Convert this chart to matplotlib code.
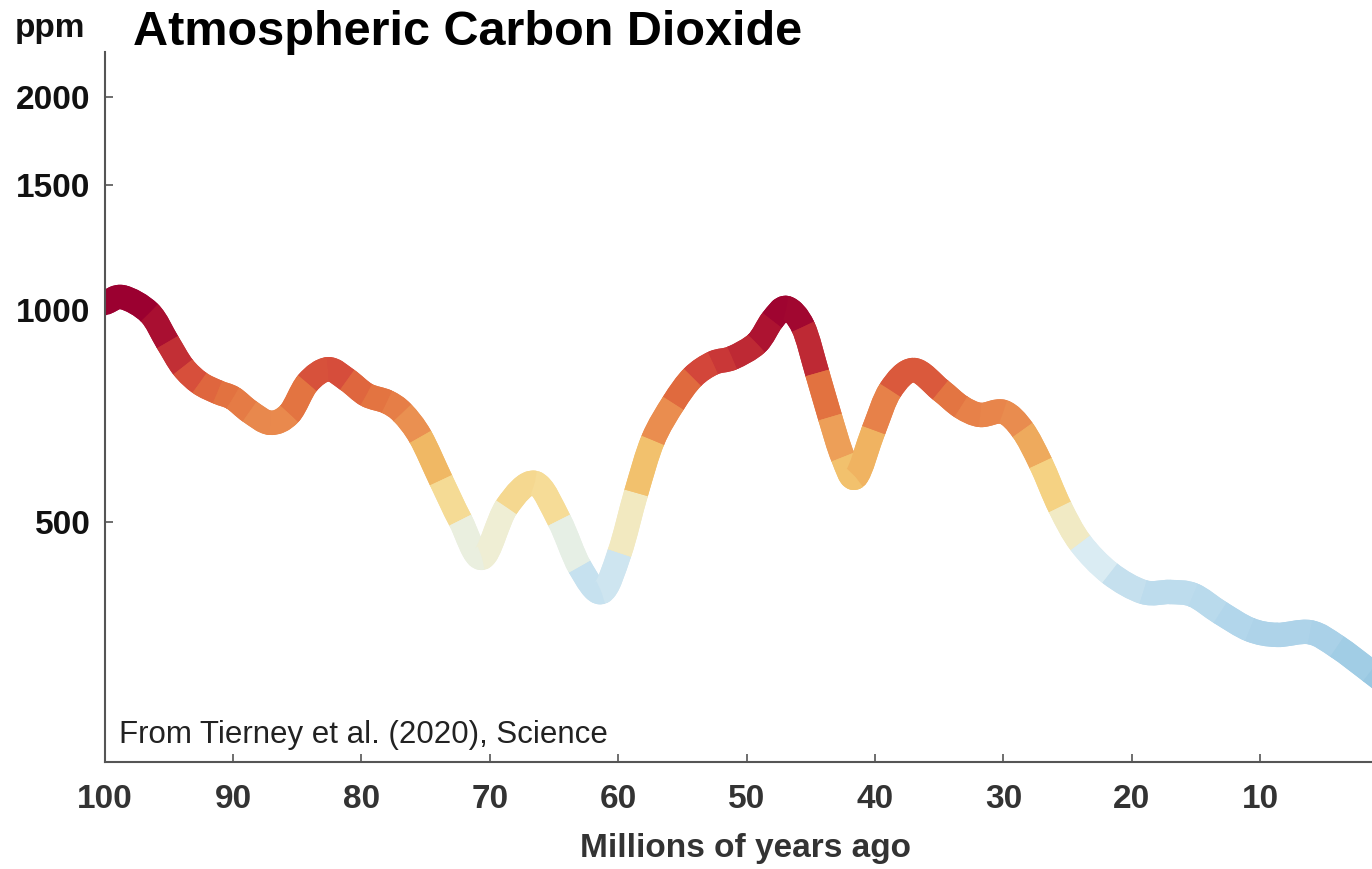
import numpy as np
import matplotlib
matplotlib.use("Agg")
import matplotlib.pyplot as plt
from matplotlib.path import Path
from matplotlib.collections import PathCollection
from matplotlib.colors import LinearSegmentedColormap, Normalize
from matplotlib.ticker import FixedLocator, FixedFormatter, NullLocator

plt.rcParams['font.family'] = ['Liberation Sans', 'DejaVu Sans']

# ---- data (millions of years ago, ppm) ----
age = [100.0, 98.6, 96.5, 95.1, 93.9, 92.6, 91.2, 90.0, 88.7, 87.1,
       85.6, 84.2, 82.6, 81.1, 79.6, 78.0, 76.8, 75.4, 73.8, 72.3,
       70.6, 68.7, 66.5, 64.6, 63.0, 61.3, 59.9, 58.6, 57.3, 55.7,
       54.2, 52.6, 51.1, 49.2, 48.0, 46.9, 45.6, 44.5, 43.5, 42.5,
       41.5, 40.1, 38.8, 37.0, 34.9, 33.3, 31.8, 30.0, 28.5, 27.1,
       25.6, 24.0, 21.7, 19.1, 17.0, 15.2, 13.1, 10.8, 8.7, 6.1,
       4.0, 1.4, 0.5]
co2 = [1021, 1041, 989, 899, 829, 787, 764, 749, 717, 691,
       712, 787, 823, 795, 757, 740, 714, 660, 573, 503,
       445, 525, 568, 503, 432, 398, 452, 550, 653, 737,
       802, 840, 854, 896, 966, 1005, 945, 813, 704, 618,
       579, 675, 769, 821, 769, 728, 709, 716, 675, 606,
       525, 467, 423, 398, 398, 394, 372, 352, 346, 349,
       333, 307, 298]

xticks = [100, 90, 80, 70, 60, 50, 40, 30, 20, 10]
xticklabels = ['100', '90', '80', '70', '60', '50', '40', '30', '20', '10']
yticks = [500, 1000, 1500, 2000]
yticklabels = ['500', '1000', '1500', '2000']

title = 'Atmospheric Carbon Dioxide'
ylabel = 'ppm'
xlabel = 'Millions of years ago'
source = 'From Tierney et al. (2020), Science'

# ---- colour map (style) ----
stops = [(300, '#99c8e2'), (350, '#afd4ea'), (400, '#bedded'), (445, '#dcedf3'),
         (480, '#eef0da'), (520, '#f6e0a0'), (580, '#f4cd78'), (620, '#f0b562'),
         (690, '#ea8e50'), (760, '#e2703f'), (820, '#d4473a'), (900, '#b51c32'),
         (1000, '#9b0030')]
vmin, vmax = stops[0][0], stops[-1][0]
cmap = LinearSegmentedColormap.from_list(
    'co2', [((v - vmin) / (vmax - vmin), c) for v, c in stops])
norm = Normalize(vmin=vmin, vmax=vmax, clip=True)

W, H = 1372, 869
fig = plt.figure(figsize=(W / 100, H / 100), dpi=100)
x0, x1 = 104.6, 1372
y0, y1 = 52, 762
ax = fig.add_axes([x0 / W, 1 - y1 / H, (x1 - x0) / W, (y1 - y0) / H])
ax.set_yscale('log')
ax.set_xlim(100, 1.29)
ax.set_ylim(228.6, 2316)

# ---- smooth coloured line ----
LW = 17.5
a = np.array(age, float)
c = np.array(co2, float)
P = np.column_stack([a, np.log10(c)])
Pe = np.vstack([2 * P[0] - P[1], P, 2 * P[-1] - P[-2]])
paths, cols = [], []
for i in range(len(P) - 1):
    p0, p1, p2, p3 = Pe[i], Pe[i + 1], Pe[i + 2], Pe[i + 3]
    c1 = p1 + (p2 - p0) / 6.0
    c2 = p2 - (p3 - p1) / 6.0
    v = np.array([p1, c1, c2, p2])
    v[:, 1] = 10 ** v[:, 1]
    paths.append(Path(v, [Path.MOVETO, Path.CURVE4, Path.CURVE4, Path.CURVE4]))
    cols.append(cmap(norm(np.sqrt(c[i] * c[i + 1]))))
# under-layer with round caps hides seams between segments
under = PathCollection(paths, facecolors='none', edgecolors=cols, linewidths=LW,
                       transform=ax.transData, capstyle='round', joinstyle='round',
                       zorder=2)
ax.add_collection(under, autolim=False)
top = PathCollection(paths, facecolors='none', edgecolors=cols, linewidths=LW,
                     transform=ax.transData, capstyle='butt', joinstyle='round',
                     zorder=2.1)
ax.add_collection(top, autolim=False)

# ---- axes styling ----
for s in ['top', 'right']:
    ax.spines[s].set_visible(False)
for s in ['left', 'bottom']:
    ax.spines[s].set_color('#555555')
    ax.spines[s].set_linewidth(1.5)
    ax.spines[s].set_zorder(3)

ax.yaxis.set_major_locator(FixedLocator(yticks))
ax.yaxis.set_major_formatter(FixedFormatter(yticklabels))
ax.yaxis.set_minor_locator(NullLocator())
ax.xaxis.set_major_locator(FixedLocator(xticks))
ax.xaxis.set_major_formatter(FixedFormatter(xticklabels))
ax.tick_params(axis='both', direction='in', length=6, width=1.2, color='#555555')
ax.tick_params(axis='y', pad=10, labelsize=24, labelcolor='#111111')
ax.tick_params(axis='x', pad=16, labelsize=24, labelcolor='#333333')
for lab in ax.get_xticklabels() + ax.get_yticklabels():
    lab.set_fontweight('bold')

fig.text(15 / W, 1 - 37 / H, ylabel, fontsize=24, fontweight='bold',
         ha='left', va='baseline', color='#111111')
fig.text(133 / W, 1 - 45 / H, title, fontsize=35, fontweight='bold',
         ha='left', va='baseline', color='#000000')
fig.text(745 / W, 1 - 857 / H, xlabel, fontsize=24, fontweight='bold',
         ha='center', va='baseline', color='#333333')
fig.text(119 / W, 1 - 743 / H, source, fontsize=22.5,
         ha='left', va='baseline', color='#222222')

fig.savefig('out.png', dpi=100, facecolor='white')
